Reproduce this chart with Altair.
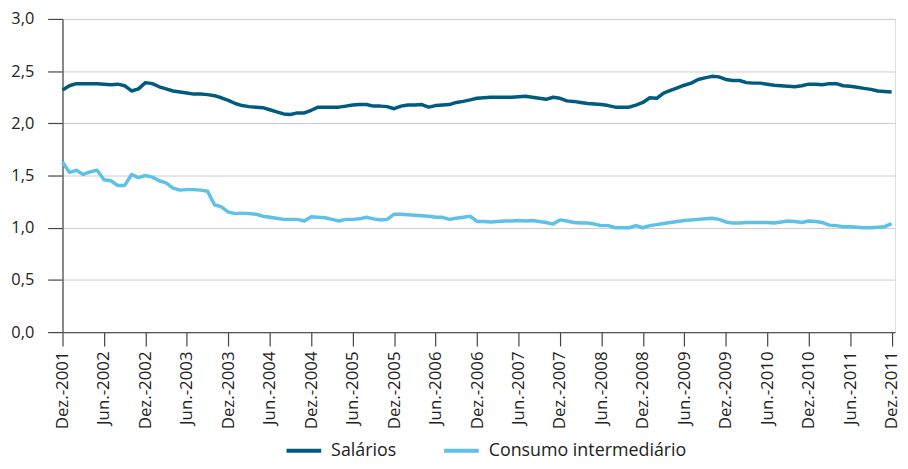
import altair as alt
import pandas as pd

meses_labels = ["Dez.-2001", "Jun.-2002", "Dez.-2002", "Jun.-2003", "Dez.-2003", "Jun.-2004",
                "Dez.-2004", "Jun.-2005", "Dez.-2005", "Jun.-2006", "Dez.-2006", "Jun.-2007",
                "Dez.-2007", "Jun.-2008", "Dez.-2008", "Jun.-2009", "Dez.-2009", "Jun.-2010",
                "Dez.-2010", "Jun.-2011", "Dez.-2011"]

salarios = [2.32, 2.36, 2.38, 2.38, 2.38, 2.38, 2.375, 2.37, 2.375, 2.36,
            2.31, 2.33, 2.39, 2.38, 2.35, 2.33, 2.31, 2.30, 2.29, 2.28,
            2.28, 2.275, 2.265, 2.245, 2.22, 2.19, 2.17, 2.16, 2.155, 2.15,
            2.13, 2.11, 2.09, 2.085, 2.10, 2.10, 2.125, 2.155, 2.155, 2.155,
            2.155, 2.165, 2.175, 2.18, 2.18, 2.165, 2.165, 2.16, 2.14, 2.165,
            2.175, 2.175, 2.18, 2.155, 2.17, 2.175, 2.18, 2.20, 2.21, 2.225,
            2.24, 2.245, 2.25, 2.25, 2.25, 2.25, 2.255, 2.26, 2.25, 2.24,
            2.23, 2.25, 2.24, 2.215, 2.21, 2.20, 2.19, 2.185, 2.18, 2.17,
            2.155, 2.155, 2.155, 2.175, 2.20, 2.245, 2.24, 2.29, 2.315, 2.34,
            2.365, 2.385, 2.42, 2.435, 2.45, 2.445, 2.42, 2.41, 2.41, 2.39,
            2.385, 2.385, 2.375, 2.365, 2.36, 2.355, 2.35, 2.36, 2.375, 2.375,
            2.37, 2.38, 2.38, 2.36, 2.355, 2.345, 2.335, 2.325, 2.31, 2.305,
            2.30]

consumo = [1.63, 1.53, 1.55, 1.51, 1.535, 1.55, 1.46, 1.45, 1.405, 1.405,
           1.51, 1.48, 1.50, 1.485, 1.45, 1.43, 1.38, 1.36, 1.365, 1.365,
           1.36, 1.35, 1.22, 1.20, 1.15, 1.135, 1.14, 1.135, 1.13, 1.11,
           1.10, 1.09, 1.08, 1.08, 1.08, 1.065, 1.105, 1.10, 1.095, 1.08,
           1.065, 1.08, 1.08, 1.085, 1.10, 1.085, 1.075, 1.08, 1.13, 1.13,
           1.125, 1.12, 1.115, 1.11, 1.10, 1.10, 1.08, 1.09, 1.10, 1.11,
           1.06, 1.06, 1.055, 1.06, 1.065, 1.065, 1.07, 1.065, 1.07, 1.06,
           1.05, 1.035, 1.075, 1.065, 1.05, 1.045, 1.045, 1.035, 1.02, 1.02,
           1.00, 1.00, 1.00, 1.02, 1.00, 1.02, 1.03, 1.04, 1.05, 1.06,
           1.07, 1.075, 1.08, 1.085, 1.09, 1.08, 1.055, 1.045, 1.045, 1.05,
           1.05, 1.05, 1.05, 1.045, 1.055, 1.065, 1.06, 1.05, 1.065, 1.06,
           1.05, 1.025, 1.02, 1.01, 1.01, 1.005, 1.00, 1.00, 1.005, 1.01,
           1.04]

series_names = ["Salários", "Consumo intermediário"]
series_colors = ["#005b7f", "#5ec1e8"]
y_ticks = [0.0, 0.5, 1.0, 1.5, 2.0, 2.5, 3.0]
x_ticks = list(range(0, 121, 6))

rows = []
for name, vals in zip(series_names, [salarios, consumo]):
    for i, v in enumerate(vals):
        rows.append({"m": i, "serie": name, "valor": v})
df = pd.DataFrame(rows)

label_list = "[" + ",".join("'" + s + "'" for s in meses_labels) + "]"

FONT = "Open Sans"

chart = alt.Chart(df).mark_line(strokeWidth=3.5, strokeJoin="round").encode(
    x=alt.X("m:Q",
            scale=alt.Scale(domain=[0, 120.5], nice=False, zero=False),
            axis=alt.Axis(values=x_ticks, labelExpr=label_list + "[round(datum.value/6)]",
                          labelAngle=-90, grid=False, title=None,
                          tickSize=14, labelPadding=5, labelFontSize=17,
                          labelColor="#222222", tickColor="#444444", domainColor="#555555",
                          domainWidth=1.5, tickWidth=1.2, labelFont=FONT)),
    y=alt.Y("valor:Q",
            scale=alt.Scale(domain=[0, 3], nice=False),
            axis=alt.Axis(values=y_ticks,
                          labelExpr="replace(format(datum.value, '.1f'), '.', ',')",
                          title=None, tickSize=15, labelPadding=14, labelFontSize=16.5,
                          labelColor="#222222", tickColor="#444444", domainColor="#666666",
                          domainWidth=1.5, tickWidth=1.2, gridColor="#cccccc", gridWidth=1,
                          labelFont=FONT)),
    color=alt.Color("serie:N",
                    scale=alt.Scale(domain=series_names, range=series_colors),
                    sort=series_names,
                    legend=alt.Legend(title=None, orient="none", direction="horizontal",
                                      legendX=224, legendY=416,
                                      symbolType="stroke", symbolSize=1225,
                                      symbolStrokeWidth=4, labelFontSize=18,
                                      labelFont=FONT, labelColor="#222222",
                                      labelLimit=400,
                                      labelOffset=8, columnPadding=40, padding=0)),
).properties(
    width=840, height=316,
    autosize=alt.AutoSizeParams(type="none"),
    padding={"left": 55, "top": 9, "right": 5, "bottom": 128},
).configure_view(
    stroke="#dddddd", strokeWidth=2
).configure(font=FONT)

chart.save("out.html", embed_options={"renderer": "svg", "actions": False})
